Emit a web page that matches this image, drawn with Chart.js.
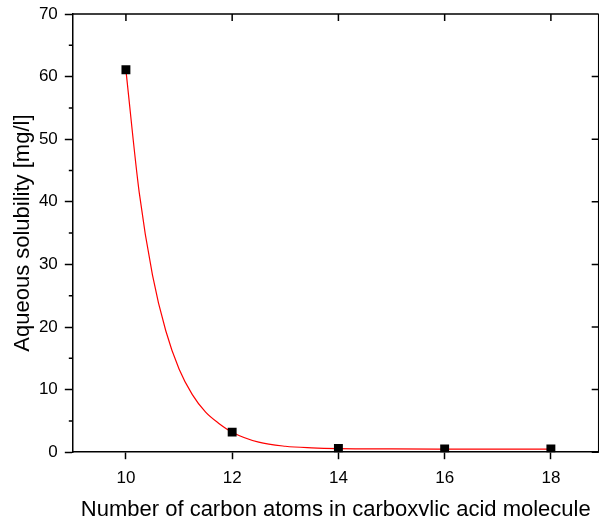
<!DOCTYPE html>
<html>
<head>
<meta charset="utf-8">
<script src="https://cdn.jsdelivr.net/npm/chart.js@4.4.1/dist/chart.umd.min.js"></script>
<style>
  html, body { margin: 0; background: #fff; overflow: hidden; }
  #wrap { width: 605px; height: 516px; }
</style>
</head>
<body>
<div id="wrap"><canvas id="solChart" width="605" height="516"></canvas></div>
<script>
// measured points
const carbonAtoms = [10, 12, 14, 16, 18];
const solubility = [61.1, 3.2, 0.6, 0.5, 0.5];

// red fit curve
const fitX = [10, 10.25, 10.5, 10.75, 11, 11.25, 11.5, 11.75, 12, 12.5, 13, 13.5, 14, 15, 16, 17, 18];
const fitY = [61.0, 41.5, 28.3, 19.4, 13.3, 9.2, 6.4, 4.6, 3.2, 1.6, 0.95, 0.7, 0.58, 0.52, 0.5, 0.5, 0.5];

const xTicks = [10, 12, 14, 16, 18];
const yMinorTicks = [5, 15, 25, 35, 45, 55, 65];

const fontFam = '"Liberation Sans", Arial, sans-serif';

// top / right axis lines and the minor ticks
const frameAxes = {
  id: 'frameAxes',
  afterDraw(chart) {
    const ctx = chart.ctx;
    const a = chart.chartArea;
    const xs = chart.scales.x, ys = chart.scales.y;
    ctx.save();
    ctx.strokeStyle = '#000';
    ctx.lineWidth = 1.5;
    ctx.beginPath();
    ctx.moveTo(a.left, a.top);
    ctx.lineTo(a.right, a.top);
    ctx.moveTo(a.right, a.top);
    ctx.lineTo(a.right, a.bottom);
    xTicks.forEach(v => {
      const px = xs.getPixelForValue(v);
      ctx.moveTo(px, a.top);
      ctx.lineTo(px, a.top + 7);
    });
    ys.ticks.forEach(t => {
      const py = ys.getPixelForValue(t.value);
      ctx.moveTo(a.right, py);
      ctx.lineTo(a.right - 7, py);
    });
    yMinorTicks.forEach(v => {
      const py = ys.getPixelForValue(v);
      ctx.moveTo(a.left - 4, py);
      ctx.lineTo(a.left, py);
    });
    ctx.stroke();
    ctx.restore();
  }
};

const ctx = document.getElementById('solChart').getContext('2d');
const chart = new Chart(ctx, {
  type: 'scatter',
  data: {
    datasets: [
      {
        label: 'data',
        data: carbonAtoms.map((x, i) => ({ x: x, y: solubility[i] })),
        pointStyle: 'rect',
        pointRadius: 6.3,
        backgroundColor: '#000',
        borderColor: '#000',
        borderWidth: 0,
        order: 1
      },
      {
        label: 'fit',
        data: fitX.map((x, i) => ({ x: x, y: fitY[i] })),
        showLine: true,
        cubicInterpolationMode: 'monotone',
        borderColor: '#ff0000',
        borderWidth: 1.2,
        pointRadius: 0,
        order: 2
      }
    ]
  },
  options: {
    responsive: false,
    animation: false,
    layout: { padding: { top: 0, right: 0, left: 0, bottom: -7 } },
    plugins: {
      legend: { display: false },
      tooltip: { enabled: false }
    },
    scales: {
      x: {
        type: 'linear',
        min: 9,
        max: 18.9,
        afterBuildTicks: s => { s.ticks = xTicks.map(v => ({ value: v })); },
        grid: { drawOnChartArea: false, tickLength: 7, tickColor: '#000', tickWidth: 1.5 },
        border: { display: true, color: '#000', width: 1.5 },
        ticks: { color: '#000', font: { family: fontFam, size: 17 }, padding: 9, maxRotation: 0 },
        title: {
          display: true,
          text: 'Number of carbon atoms in carboxylic acid molecule',
          color: '#000',
          font: { family: fontFam, size: 22 },
          padding: { top: -1, bottom: 0 }
        }
      },
      y: {
        min: 0,
        max: 70,
        afterFit: s => { s.paddingTop = 14; },
        ticks: { stepSize: 10, color: '#000', font: { family: fontFam, size: 17 }, padding: 7 },
        grid: { drawOnChartArea: false, tickLength: 8, tickColor: '#000', tickWidth: 1.5 },
        border: { display: true, color: '#000', width: 1.5 },
        title: {
          display: true,
          text: 'Aqueous solubility [mg/l]',
          color: '#000',
          font: { family: fontFam, size: 22 },
          padding: { top: 10, bottom: -4.5 }
        }
      }
    }
  },
  plugins: [frameAxes]
});
</script>
</body>
</html>
